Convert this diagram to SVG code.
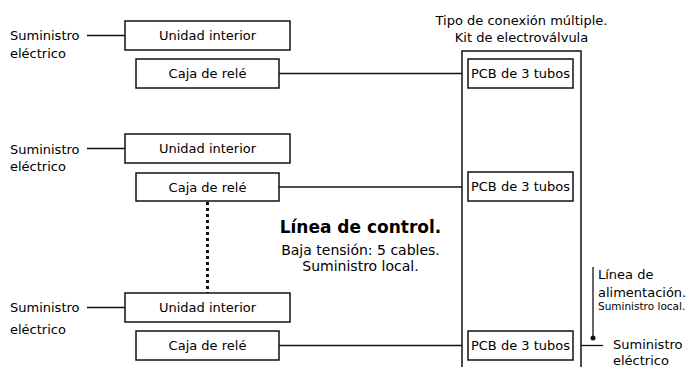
<svg xmlns="http://www.w3.org/2000/svg" width="688" height="367" viewBox="0 0 688 367">
<style>
.box{fill:#fff;stroke:#111;stroke-width:1.5}
.ln{stroke:#111;stroke-width:1.3;fill:none}
.dot{stroke:#111;stroke-width:3;stroke-dasharray:3 3;fill:none}
text{font-family:"DejaVu Sans","Liberation Sans",sans-serif;font-size:13px;fill:#000}
.c{text-anchor:middle}
.b{font-weight:bold;font-size:17px}
.m{font-size:14px}
.s{font-size:10.5px}
</style>
<rect width="688" height="367" fill="#fff"/>
<g id="connectors">
<line class="ln" x1="87" y1="35.5" x2="125" y2="35.5"/>
<line class="ln" x1="87" y1="148.5" x2="125" y2="148.5"/>
<line class="ln" x1="87" y1="307.5" x2="125" y2="307.5"/>
<line class="ln" x1="279" y1="73.5" x2="462" y2="73.5"/>
<line class="ln" x1="279" y1="187" x2="462" y2="187"/>
<line class="ln" x1="279" y1="345.5" x2="462" y2="345.5"/>
<line class="dot" x1="207.5" y1="202" x2="207.5" y2="293"/>
<line class="dot" x1="521" y1="202" x2="521" y2="331"/>
<line class="ln" x1="593" y1="267" x2="593" y2="338"/>
<circle cx="593" cy="338" r="2.5" fill="#111"/>
<line class="ln" x1="581" y1="345.5" x2="603" y2="345.5"/>
</g>
<g id="kit">
<rect class="box" x="462" y="51" width="119" height="330"/>
<text class="c" x="521.5" y="25">Tipo de conexión múltiple.</text>
<text class="c" x="521.5" y="42">Kit de electroválvula</text>
</g>
<g id="supply1"><text x="10" y="40">Suministro</text><text x="10" y="57.5">eléctrico</text></g>
<g id="supply2"><text x="10" y="154">Suministro</text><text x="10" y="171">eléctrico</text></g>
<g id="supply3"><text x="10" y="312">Suministro</text><text x="10" y="334">eléctrico</text></g>
<g id="unit1"><rect class="box" x="125" y="21" width="165" height="29"/><text class="c" x="207.5" y="40.2">Unidad interior</text></g>
<g id="unit2"><rect class="box" x="125" y="134" width="165" height="29"/><text class="c" x="207.5" y="153.2">Unidad interior</text></g>
<g id="unit3"><rect class="box" x="125" y="293" width="165" height="29"/><text class="c" x="207.5" y="312.2">Unidad interior</text></g>
<g id="relay1"><rect class="box" x="136" y="59" width="143" height="29"/><text class="c" x="207.5" y="78.2">Caja de relé</text></g>
<g id="relay2"><rect class="box" x="136" y="173" width="143" height="28"/><text class="c" x="207.5" y="191.7">Caja de relé</text></g>
<g id="relay3"><rect class="box" x="136" y="331" width="143" height="29"/><text class="c" x="207.5" y="350.2">Caja de relé</text></g>
<g id="pcb1"><rect class="box" x="468" y="59" width="105" height="29"/><text class="c" x="520.5" y="78.2">PCB de 3 tubos</text></g>
<g id="pcb2"><rect class="box" x="468" y="172" width="105" height="29"/><text class="c" x="520.5" y="191.2">PCB de 3 tubos</text></g>
<g id="pcb3"><rect class="box" x="468" y="331" width="105" height="29"/><text class="c" x="520.5" y="350.2">PCB de 3 tubos</text></g>
<g id="control-label">
<text class="c b" x="360.5" y="233.3">Línea de control.</text>
<text class="c m" x="360.5" y="254.5">Baja tensión: 5 cables.</text>
<text class="c m" x="360.5" y="270.5">Suministro local.</text>
</g>
<g id="power-label">
<text x="598" y="279">Línea de</text>
<text x="598" y="297">alimentación.</text>
<text class="s" x="598" y="310">Suministro local.</text>
</g>
<g id="supply4"><text x="613" y="349">Suministro</text><text x="613" y="365">eléctrico</text></g>
</svg>
